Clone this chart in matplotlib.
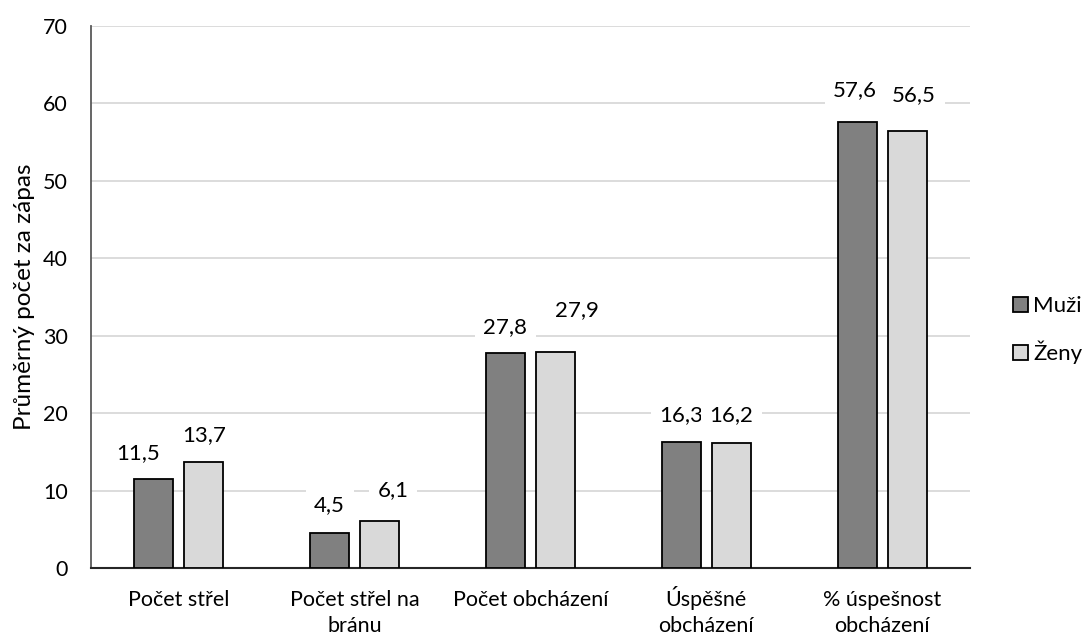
import matplotlib
matplotlib.use("Agg")
import matplotlib.pyplot as plt
import numpy as np
from matplotlib.patches import Patch

categories = ["Počet střel", "Počet střel na\nbránu", "Počet obcházení", "Úspěšné\nobcházení", "% úspešnost\nobcházení"]
muzi = [11.5, 4.5, 27.8, 16.3, 57.6]
zeny = [13.7, 6.1, 27.9, 16.2, 56.5]
series_names = ["Muži", "Ženy"]
yticks = [0, 10, 20, 30, 40, 50, 60, 70]

# label offsets (pixels) relative to top-centre of each bar (layout only)
label_off_muzi = [(-16, 26), (0, 28), (0, 26), (0, 27), (-2, 32)]
label_off_zeny = [(0, 27), (13, 31), (21, 42), (0, 27), (7, 35)]

plt.rcParams['font.family'] = ['Lato', 'DejaVu Sans']

fig = plt.figure(figsize=(10.82, 6.35), dpi=100)
ax = fig.add_axes([0.0841, 0.1055, 0.8124, 0.8535])

x = np.arange(len(categories))
bw = 0.222
gap = 0.063
off = (bw + gap) / 2
c1, c2 = "#808080", "#d9d9d9"
b1 = ax.bar(x - off, muzi, bw, color=c1, edgecolor="black", linewidth=1.3, zorder=3)
b2 = ax.bar(x + off, zeny, bw, color=c2, edgecolor="black", linewidth=1.3, zorder=3)

fmt = lambda v: f"{v:.1f}".replace(".", ",")
for bars, vals, offs in ((b1, muzi, label_off_muzi), (b2, zeny, label_off_zeny)):
    for rect, v, (dx, dy) in zip(bars, vals, offs):
        ax.annotate(fmt(v), (rect.get_x() + rect.get_width() / 2, v),
                    xytext=(dx, dy), textcoords="offset pixels",
                    ha="center", va="center", fontsize=16, zorder=4,
                    bbox=dict(boxstyle="square,pad=0.38", fc="white", ec="none"))

ax.set_xlim(-0.5, len(categories) - 0.5)
ax.set_ylim(0, 70)
ax.set_yticks(yticks)
ax.set_xticks(x)
ax.set_xticklabels([])
for xi, cat in zip(x, categories):
    for li, line in enumerate(cat.split("\n")):
        ax.annotate(line, (xi, 0), xycoords=("data", "axes fraction"),
                    xytext=(0, -38 - 26 * li), textcoords="offset pixels",
                    ha="center", va="baseline", fontsize=15.5, annotation_clip=False)
ax.tick_params(axis="y", labelsize=15.5, length=0, pad=16.5)
ax.tick_params(axis="x", length=0)
ax.yaxis.grid(True, color="#d9d9d9", linewidth=1.3, zorder=0)
ax.set_axisbelow(True)
for s in ("top", "right"):
    ax.spines[s].set_visible(False)
ax.spines["left"].set_color("#595959")
ax.spines["left"].set_linewidth(1.3)
ax.spines["bottom"].set_color("#262626")
ax.spines["bottom"].set_linewidth(1.5)
ax.set_ylabel("Průměrný počet za zápas", fontsize=17.5, labelpad=6)

handles = [Patch(facecolor=c1, edgecolor="black", linewidth=1.3),
           Patch(facecolor=c2, edgecolor="black", linewidth=1.3)]
fig.legend(handles, series_names, loc="center left", bbox_to_anchor=(0.918, 0.48),
           frameon=False, fontsize=16, handlelength=0.65, handleheight=0.65,
           handletextpad=0.25, labelspacing=1.1)

fig.savefig("out.png", dpi=100)
